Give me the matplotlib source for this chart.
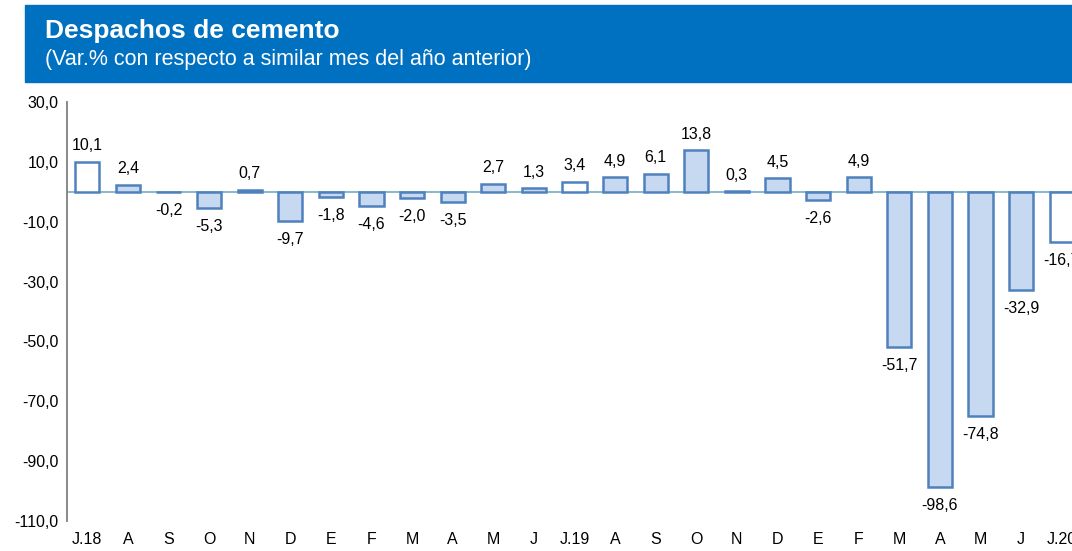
import matplotlib

matplotlib.use("Agg")
import matplotlib.pyplot as plt
from matplotlib.patches import Rectangle

plt.rcParams["font.family"] = ["Liberation Sans", "DejaVu Sans"]

months = ["J.18", "A", "S", "O", "N", "D", "E", "F", "M", "A", "M", "J",
          "J.19", "A", "S", "O", "N", "D", "E", "F", "M", "A", "M", "J", "J.20"]
values = [10.1, 2.4, -0.2, -5.3, 0.7, -9.7, -1.8, -4.6, -2.0, -3.5, 2.7, 1.3,
          3.4, 4.9, 6.1, 13.8, 0.3, 4.5, -2.6, 4.9, -51.7, -98.6, -74.8, -32.9, -16.7]
yticks = [30, 10, -10, -30, -50, -70, -90, -110]

EDGE = "#4F81BD"
FILL = "#C6D9F1"
BANNER = "#0070C0"

W, H = 1072, 551
fig = plt.figure(figsize=(W / 100, H / 100), dpi=100)

# title banner
fig.patches.append(Rectangle((25 / W, 1 - 82 / H), 1 - 25 / W, 77 / H,
                             transform=fig.transFigure, color=BANNER, zorder=0))
fig.text(45 / W, 1 - 31 / H, "Despachos de cemento", color="white",
         fontsize=19, fontweight="bold", va="center")
fig.text(45 / W, 1 - 60 / H, "(Var.% con respecto a similar mes del año anterior)",
         color="white", fontsize=15.5, va="center")

# axes: left at x=67px, slot width ~40.6px, extends past right edge
left = 67 / W
slot = 40.6 / W
ax = fig.add_axes([left, 1 - 521 / H, slot * 25, (521 - 102) / H])
x = list(range(len(values)))
colors = [("white" if m.startswith("J.") else FILL) for m in months]
ax.bar(x, values, width=0.6, color=colors, edgecolor=EDGE, linewidth=1.8, zorder=3)
ax.axhline(0, color="#7FB3C5", linewidth=1.3, zorder=2)

for xi, v in zip(x, values):
    label = f"{v:.1f}".replace(".", ",")
    if v >= 0:
        ax.annotate(label, (xi, v), xytext=(0, 6), textcoords="offset points",
                    ha="center", va="bottom", fontsize=11.5)
    else:
        ax.annotate(label, (xi, v), xytext=(0, -8), textcoords="offset points",
                    ha="center", va="top", fontsize=11.5)

ax.set_xlim(-0.5, 24.5)
ax.set_ylim(-110, 30)
ax.set_yticks(yticks)
ax.set_yticklabels([f"{t:.1f}".replace(".", ",") for t in yticks], fontsize=11.5)
ax.set_xticks(x)
ax.set_xticklabels(months, fontsize=11.5)
ax.tick_params(axis="both", length=0, pad=6)
ax.tick_params(axis="x", pad=8)
for s in ["top", "right", "bottom"]:
    ax.spines[s].set_visible(False)
ax.spines["left"].set_color("#808080")
ax.spines["left"].set_linewidth(1.3)

fig.savefig("out.png", dpi=100)
